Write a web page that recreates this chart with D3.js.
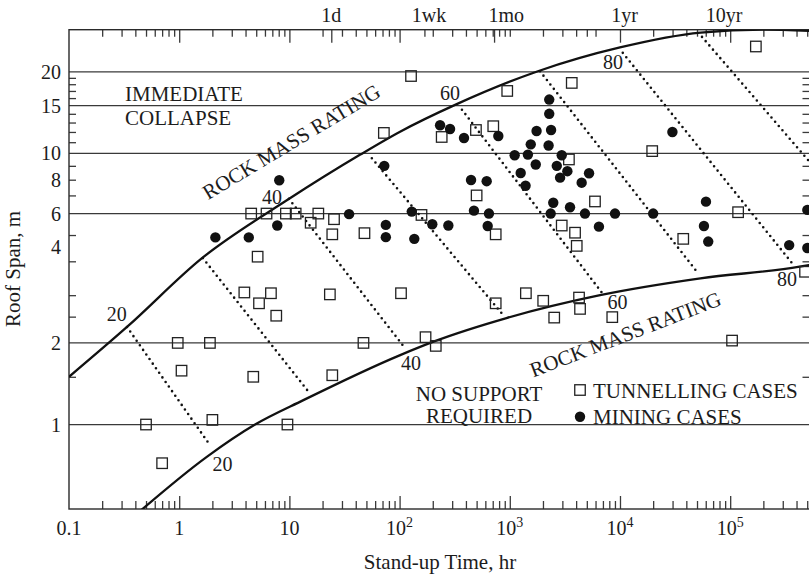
<!DOCTYPE html>
<html>
<head>
<meta charset="utf-8">
<script src="https://cdn.jsdelivr.net/npm/d3@7"></script>
<style>
    body { margin: 0; background: #fff; }
    svg { display: block; font-family: "Liberation Serif", "Times New Roman", serif; }
</style>
</head>
<body>
<svg id="chart" width="809" height="578"></svg>
<script>
// tunnelling cases (open squares): stand-up time in hr, roof span in m
let tunnelT = [0.5, 0.7, 2.0, 9.6, 0.97, 1.9, 47, 1.05, 4.7, 24.5,
    4.5, 6.2, 9.3, 11.4, 18.3, 15.6, 25.4, 24.5, 48, 5.15,
    3.9, 5.3, 6.8, 7.6, 23.3, 103, 72, 127, 3650, 948,
    241, 493, 708, 19600, 3440, 171000, 500, 5930, 158, 745,
    2960, 3910, 4050, 37500, 118000, 478000, 745, 1400, 2010, 2530,
    4250, 4340, 8510, 172, 213, 104000];
let tunnelS = [1.0, 0.72, 1.04, 1.0, 2.0, 2.0, 2.0, 1.58, 1.5, 1.52,
    6.0, 6.0, 6.0, 6.0, 6.0, 5.55, 5.72, 5.03, 5.08, 4.16,
    3.07, 2.8, 3.05, 2.52, 3.02, 3.05, 11.9, 19.3, 18.2, 17.0,
    11.5, 12.2, 12.6, 10.2, 9.5, 24.8, 7.0, 6.65, 5.93, 5.03,
    5.42, 5.1, 4.56, 4.84, 6.07, 3.66, 2.8, 3.05, 2.86, 2.48,
    2.94, 2.67, 2.49, 2.1, 1.95, 2.04];

// mining cases (filled circles)
let miningT = [2.13, 4.28, 7.76, 8.09, 34.8, 75, 75, 72.6, 233, 287,
    384, 787, 2280, 2280, 1750, 2370, 1550, 2250, 1107, 1460,
    1720, 2960, 2670, 1256, 1390, 3330, 2860, 5240, 4490, 445,
    617, 29900, 2480, 3520, 60300, 129, 473, 647, 2350, 4810,
    9010, 20000, 501000, 198, 277, 630, 136, 6440, 57800, 63200,
    343000, 501000];
let miningS = [4.9, 4.9, 5.42, 7.96, 5.97, 5.45, 4.91, 9.0, 12.7, 12.3,
    11.4, 11.6, 15.8, 14.0, 12.1, 12.2, 10.8, 10.7, 9.85, 9.9,
    9.1, 9.85, 9.0, 8.47, 7.6, 8.6, 8.14, 8.45, 7.8, 7.98,
    7.9, 12.0, 6.58, 6.33, 6.64, 6.1, 6.15, 6.0, 6.0, 6.0,
    6.0, 6.0, 6.19, 5.48, 5.42, 5.4, 4.84, 5.37, 5.4, 4.73,
    4.59, 4.48];

// boundary curves
let upperT = [0.1, 0.34, 1.6, 9.4, 44, 100, 330, 1800, 10000, 54000, 200000, 530000];
let upperS = [1.5, 2.3, 4.1, 6.7, 9.9, 12.0, 15.2, 20.1, 24.6, 27.9, 28.6, 28.3];
let lowerT = [0.43, 1.78, 4.88, 13.4, 100, 209, 933, 6600, 53700, 427000, 530000];
let lowerS = [0.475, 0.76, 1.0, 1.23, 1.80, 2.03, 2.47, 3.0, 3.46, 3.82, 3.88];

// dotted rock mass rating lines (20, 30 ... 90)
let rmrStartT = [0.336, 1.64, 9.9, 56, 368, 1880, 10600, 55500];
let rmrStartS = [2.29, 4.11, 6.8, 9.6, 14.5, 20.1, 23.5, 26.9];
let rmrEndT = [1.90, 14.5, 108, 867, 6870, 51000, 364000, 1500000];
let rmrEndS = [0.84, 1.34, 1.95, 2.54, 3.06, 3.62, 3.94, 5.68];

// rating numbers along the curves
let rmrNumText = ["20", "40", "60", "80", "20", "40", "60", "80"];
let rmrNumT = [0.271, 6.95, 287, 8630, 2.47, 127, 9480, 327000];
let rmrNumS = [2.56, 6.91, 16.7, 21.8, 0.718, 1.69, 2.84, 3.43];

// axes
let gridS = [1, 2, 6, 10, 15, 20];
let yMinorTicks = [1.5, 2.5, 3, 4, 5, 7, 8, 9, 11, 12, 13, 14, 16, 17, 18, 19];
let yLabels = ["1", "2", "4", "6", "8", "10", "15", "20"];
let yLabelAt = [1, 2, 4.5, 6, 8, 10, 15, 20]; // the "4" sits above its tick in the original
let xDecades = [0.1, 1, 10, 100, 1000, 10000, 100000];
let xLabelBase = ["0.1", "1", "10", "10", "10", "10", "10"];
let xLabelExp = ["", "", "", "2", "3", "4", "5"];
let topLabels = ["1d", "1wk", "1mo", "1yr", "10yr"];
let topLabelT = [24, 185, 930, 11000, 88000];
let topLongTicks = [1, 10, 24, 100, 720, 10000, 100000];

let svg = d3.select("#chart");
let ink = "#1c1c1c";
let plotLeft = 69, plotRight = 810, plotTop = 29.7, plotBottom = 509;

let x = d3.scaleLog().domain([0.1, 5.3e5]).range([plotLeft, plotRight]);
let y = d3.scaleLog().domain([0.488, 28.6]).range([plotBottom, plotTop]);

svg.append("defs").append("clipPath").attr("id", "plot")
    .append("rect")
    .attr("x", plotLeft).attr("y", plotTop)
    .attr("width", plotRight - plotLeft).attr("height", plotBottom - plotTop);

// minor ticks along x: 2..9 in every decade
let xMinor = [];
for (let d = 0.1; d < 5e5; d *= 10) {
    for (let k = 2; k <= 9; k++) {
        let v = Math.round(d * k * 1000) / 1000;
        if (v < 5.3e5) xMinor.push(v);
    }
}
let xMajorBottom = xDecades.slice(1);
let topMinor = xMinor.filter(v => [7000, 8000, 9000].indexOf(v) < 0 && topLongTicks.indexOf(v) < 0)
    .concat([168, 1000]);

// gridlines
svg.append("g")
    .selectAll("line")
    .data(gridS)
    .join("line")
    .attr("x1", plotLeft).attr("x2", plotRight)
    .attr("y1", d => y(d)).attr("y2", d => y(d))
    .attr("stroke", "#3a3a3a").attr("stroke-width", 1.3);

// ticks
function tickGroup(axis, tx, ty) {
    let g = svg.append("g").attr("transform", `translate(${tx},${ty})`).call(axis);
    g.select(".domain").remove();
    g.selectAll(".tick line").attr("stroke", "#3a3a3a").attr("stroke-width", 1.3);
    g.selectAll(".tick text").remove();
    return g;
}
tickGroup(d3.axisBottom(x).tickValues(xMinor).tickSize(-8), 0, plotBottom);
tickGroup(d3.axisBottom(x).tickValues(xMajorBottom).tickSize(-13), 0, plotBottom);
tickGroup(d3.axisTop(x).tickValues(topMinor).tickSize(-7), 0, plotTop);
tickGroup(d3.axisTop(x).tickValues(topLongTicks).tickSize(-13), 0, plotTop);
tickGroup(d3.axisLeft(y).tickValues(yMinorTicks).tickSize(-7), plotLeft, 0);
tickGroup(d3.axisRight(y).tickValues(yMinorTicks).tickSize(-7), plotRight - 0.5, 0);

// frame
svg.append("rect")
    .attr("x", plotLeft).attr("y", plotTop)
    .attr("width", plotRight - plotLeft).attr("height", plotBottom - plotTop)
    .attr("fill", "none").attr("stroke", "#2a2a2a").attr("stroke-width", 1.4);

let plot = svg.append("g").attr("clip-path", "url(#plot)");

// dotted rating lines
let rmrLines = rmrStartT.map((t, i) => [[t, rmrStartS[i]], [rmrEndT[i], rmrEndS[i]]]);
let line = d3.line().x(d => x(d[0])).y(d => y(d[1]));
plot.append("g")
    .selectAll("path")
    .data(rmrLines)
    .join("path")
    .attr("d", line)
    .attr("fill", "none")
    .attr("stroke", "#111")
    .attr("stroke-width", 2.6)
    .attr("stroke-linecap", "round")
    .attr("stroke-dasharray", "0 5.6");

// boundary curves
let smooth = d3.line().x(d => x(d[0])).y(d => y(d[1])).curve(d3.curveMonotoneX);
let curves = [
    upperT.map((t, i) => [t, upperS[i]]),
    lowerT.map((t, i) => [t, lowerS[i]])
];
plot.append("g")
    .selectAll("path")
    .data(curves)
    .join("path")
    .attr("d", smooth)
    .attr("fill", "none")
    .attr("stroke", "#111")
    .attr("stroke-width", 2.3);

// markers
let tunnels = tunnelT.map((t, i) => ({t: t, s: tunnelS[i]}));
let mines = miningT.map((t, i) => ({t: t, s: miningS[i]}));
let sq = 10.5;
svg.append("g")
    .selectAll("rect")
    .data(tunnels)
    .join("rect")
    .attr("x", d => x(d.t) - sq / 2)
    .attr("y", d => y(d.s) - sq / 2)
    .attr("width", sq).attr("height", sq)
    .attr("fill", "none")
    .attr("stroke", "#222")
    .attr("stroke-width", 1.3);
svg.append("g")
    .selectAll("circle")
    .data(mines)
    .join("circle")
    .attr("cx", d => x(d.t))
    .attr("cy", d => y(d.s))
    .attr("r", 5.2)
    .attr("fill", "#111");

// tick labels
let txt = svg.append("g").attr("fill", ink).attr("font-size", 20);
txt.selectAll("text.yl")
    .data(yLabels)
    .join("text")
    .attr("class", "yl")
    .attr("x", 61)
    .attr("y", (d, i) => y(yLabelAt[i]))
    .attr("dy", "0.35em")
    .attr("text-anchor", "end")
    .text(d => d);

let xl = txt.selectAll("text.xl")
    .data(xDecades)
    .join("text")
    .attr("class", "xl")
    .attr("x", d => x(d))
    .attr("y", 535)
    .attr("text-anchor", "middle");
xl.append("tspan").text((d, i) => xLabelBase[i]);
xl.append("tspan")
    .attr("font-size", 14)
    .attr("dy", -8)
    .text((d, i) => xLabelExp[i]);

txt.selectAll("text.tl")
    .data(topLabels)
    .join("text")
    .attr("class", "tl")
    .attr("x", (d, i) => x(topLabelT[i]))
    .attr("y", 22)
    .attr("text-anchor", "middle")
    .text(d => d);

// rating numbers
txt.selectAll("text.rn")
    .data(rmrNumText)
    .join("text")
    .attr("class", "rn")
    .attr("x", (d, i) => x(rmrNumT[i]))
    .attr("y", (d, i) => y(rmrNumS[i]))
    .attr("dy", "0.35em")
    .attr("text-anchor", "middle")
    .text(d => d);

// annotations
let ann = svg.append("g").attr("fill", ink).attr("font-size", 21);
ann.append("text").attr("x", 125).attr("y", 101).text("IMMEDIATE");
ann.append("text").attr("x", 125).attr("y", 125).text("COLLAPSE");
ann.append("text").attr("x", 479).attr("y", 401).attr("text-anchor", "middle").text("NO SUPPORT");
ann.append("text").attr("x", 479).attr("y", 423).attr("text-anchor", "middle").text("REQUIRED");
ann.append("text")
    .attr("transform", "translate(295,148) rotate(-31)")
    .attr("text-anchor", "middle")
    .text("ROCK MASS RATING");
ann.append("text")
    .attr("transform", "translate(628,341) rotate(-21)")
    .attr("text-anchor", "middle")
    .text("ROCK MASS RATING");

// legend
svg.append("rect")
    .attr("x", 580 - sq / 2).attr("y", 390 - sq / 2)
    .attr("width", sq).attr("height", sq)
    .attr("fill", "none").attr("stroke", "#222").attr("stroke-width", 1.3);
svg.append("circle").attr("cx", 580).attr("cy", 416.7).attr("r", 5.2).attr("fill", "#111");
ann.append("text").attr("x", 593).attr("y", 398).text("TUNNELLING CASES");
ann.append("text").attr("x", 593).attr("y", 424).text("MINING CASES");

// axis titles
ann.append("text").attr("x", 440).attr("y", 569).attr("text-anchor", "middle").text("Stand-up Time, hr");
ann.append("text")
    .attr("transform", "translate(20,269) rotate(-90)")
    .attr("text-anchor", "middle")
    .text("Roof Span, m");
</script>
</body>
</html>
